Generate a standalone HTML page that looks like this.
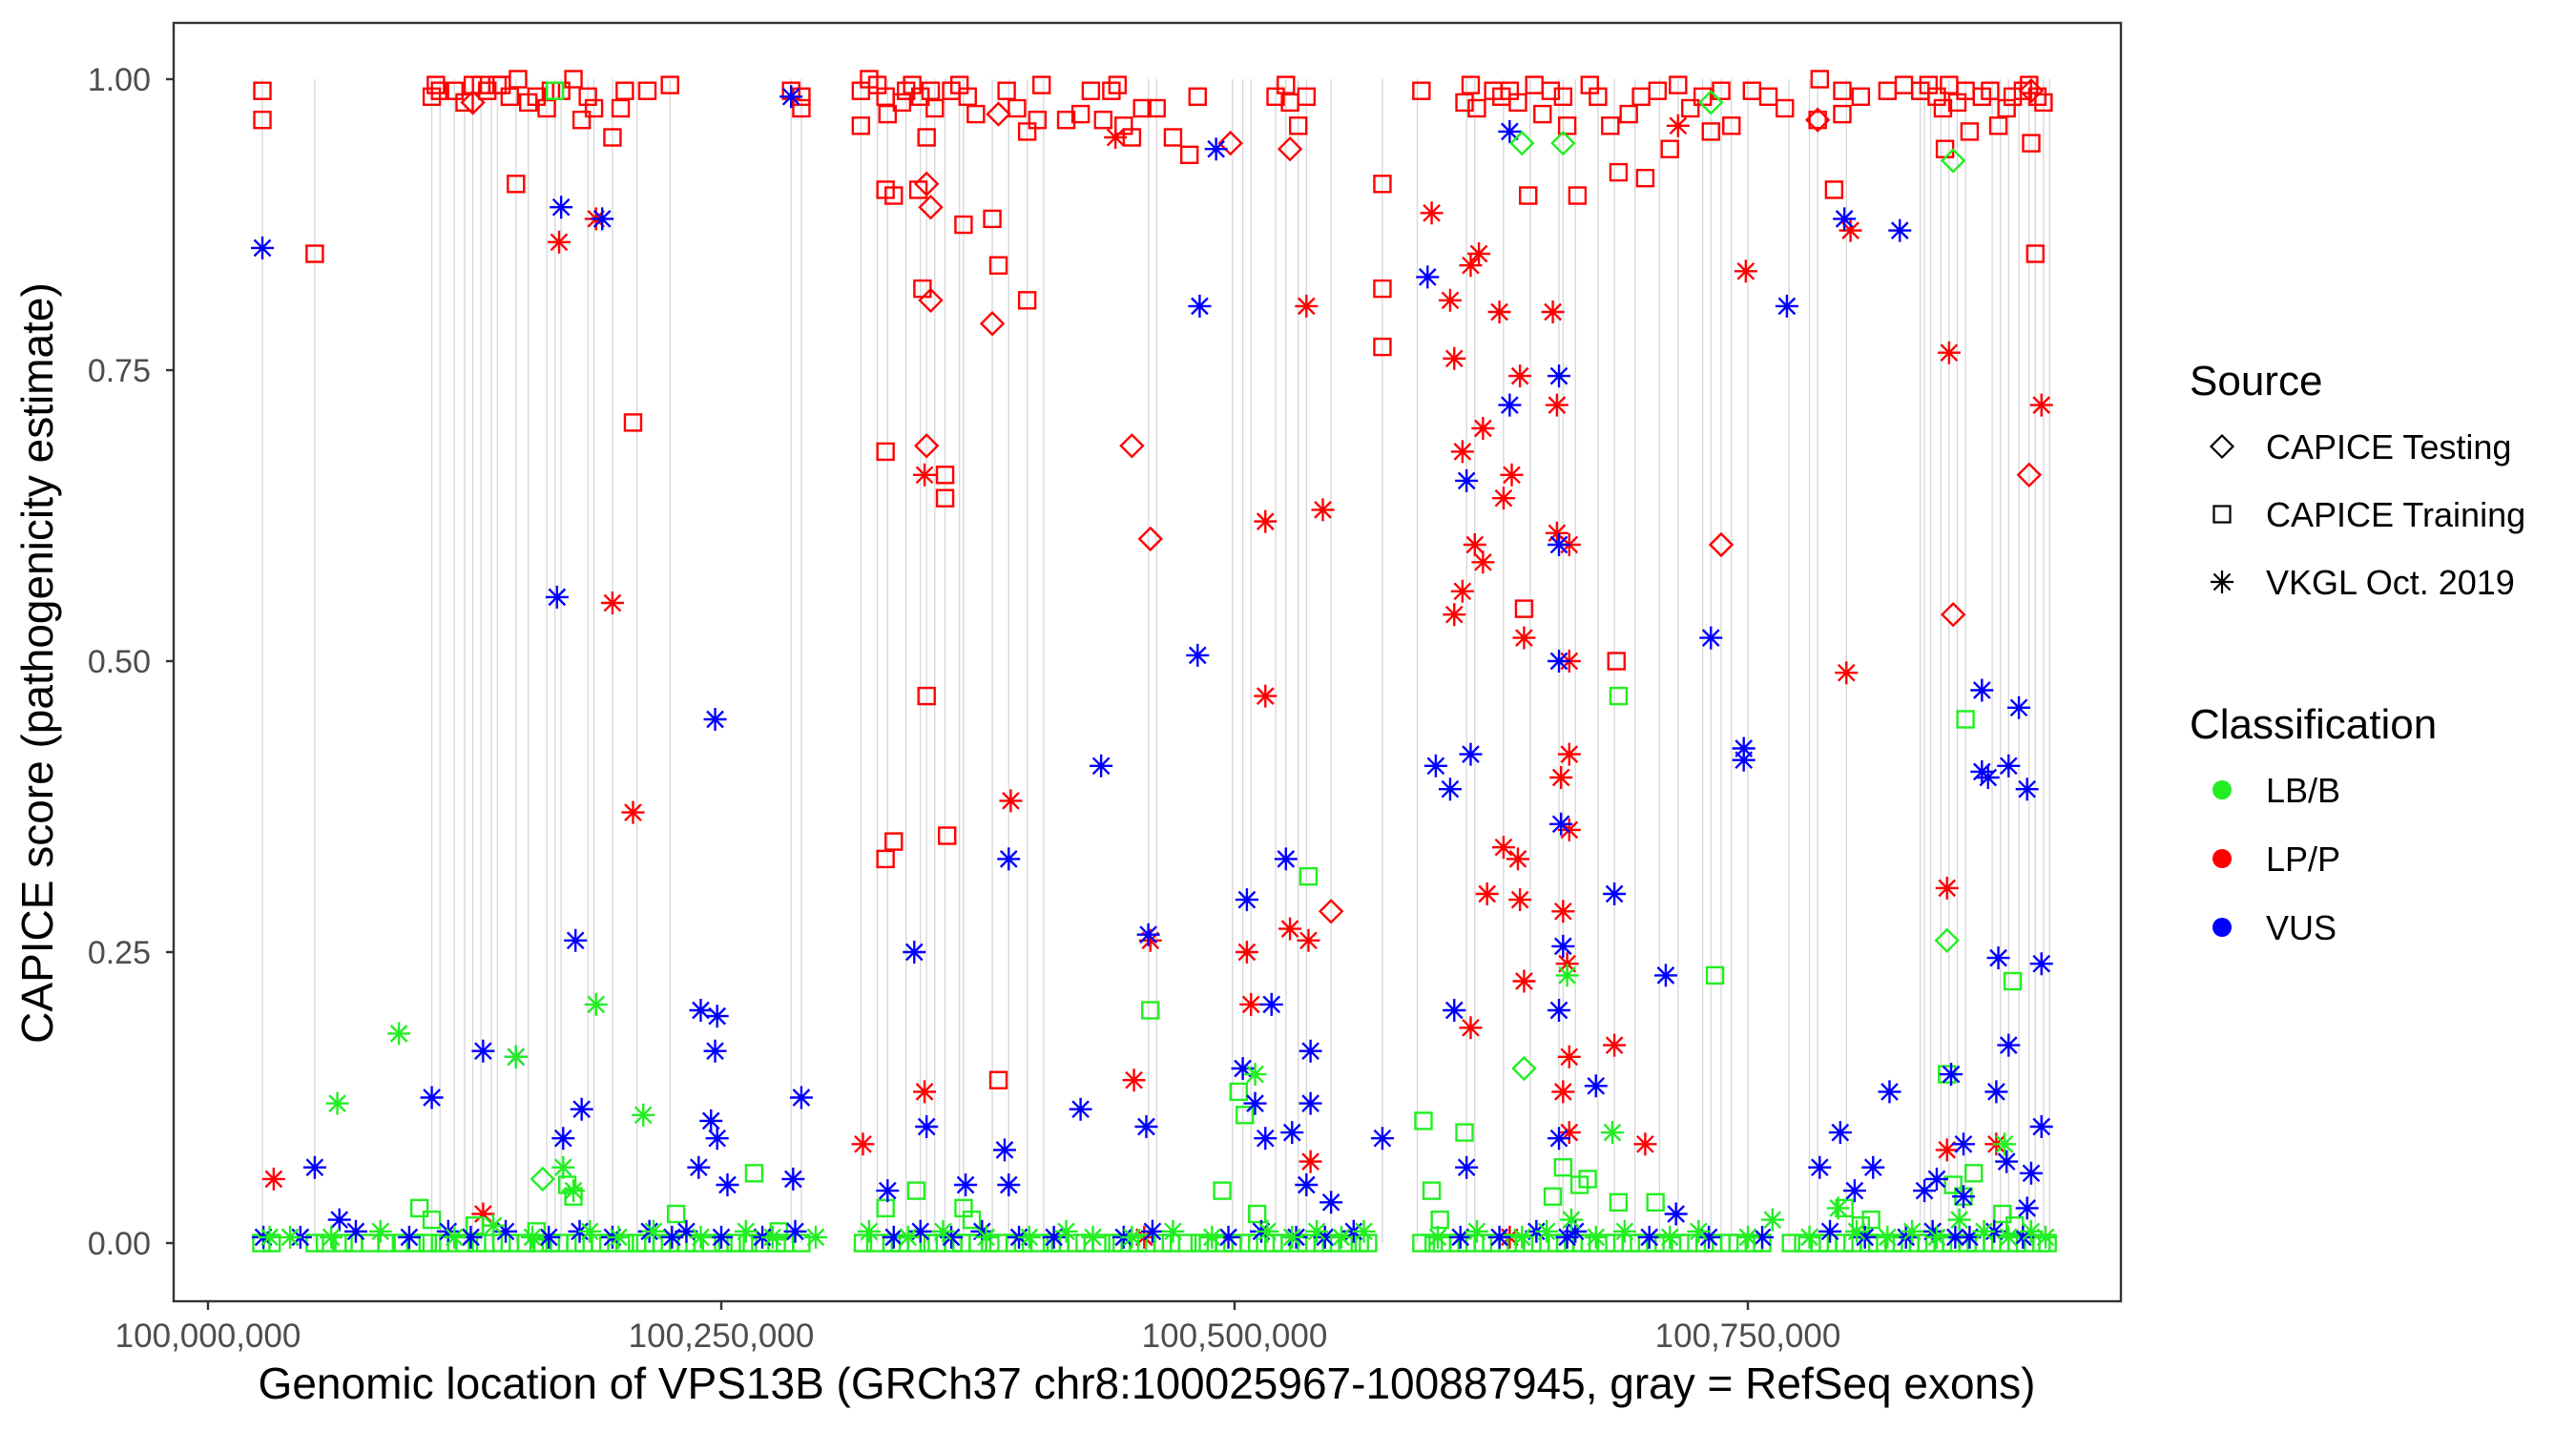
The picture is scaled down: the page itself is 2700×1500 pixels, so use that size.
<!DOCTYPE html>
<html><head><meta charset="utf-8"><style>
html,body{margin:0;padding:0;background:#fff}
svg{display:block;font-family:"Liberation Sans",Arial,sans-serif}
</style></head><body>
<svg id="chart" width="2700" height="1500" viewBox="0 0 2700 1500" xmlns="http://www.w3.org/2000/svg">
<rect x="0" y="0" width="2700" height="1500" fill="#fff"/>
<g id="exons"></g>
<g id="marks"></g>
<rect x="182" y="24" width="2041" height="1340" fill="none" stroke="#333" stroke-width="2.4"/>
<g id="axes"></g>
<text x="1202" y="1466" font-size="46" text-anchor="middle" fill="#000">Genomic location of VPS13B (GRCh37 chr8:100025967-100887945, gray = RefSeq exons)</text>
<text transform="translate(55,695) rotate(-90)" font-size="46" text-anchor="middle" fill="#000">CAPICE score (pathogenicity estimate)</text>
<g id="legend">
<text x="2295" y="414" font-size="44">Source</text>
<text x="2295" y="774" font-size="44">Classification</text>
</g>
</svg>
<script>
// positions in kb offset from 100,000,000 (GRCh37 chr8); scores are CAPICE values
const xTicks = [0, 250, 500, 750];
const xTickLabels = ["100,000,000", "100,250,000", "100,500,000", "100,750,000"];
const yTicks = [0, 0.25, 0.5, 0.75, 1];
const yTickLabels = ["0.00", "0.25", "0.50", "0.75", "1.00"];
const exonPositions = [26.5,52,109,113,120,125,129,133,138,141,150,156,165,169,172,185,188,197,209,225,284,289,318,326,331,340,347,350,354,359,366,368,382,390,399,407,458,462,499,504,508,520,525,531,535,547,572,589,613,617,631,644,658,660,666,677,685,695,707,716,728,732,737,742,750,770,780,784,798,834,836,839,844,848,852,856,869,873,877,882,887,890,894,897];

const trainLBB_low = [[26,0],[31,0],[52,0],[57,0],[66,0],[71,0],[79,0],[87,0],[94,0],[101,0],[107,0],[113,0],[117,0],[125,0],[131,0],[135,0],[143,0],[147,0],[155,0],[161,0],[167,0],[171,0],[179,0],[183,0],[191,0],[195,0],[203,0],[209,0],[213,0],[221,0],[225,0],[233,0],[237,0],[245,0],[251,0],[257,0],[263,0],[269,0],[277,0],[281,0],[289,0],[319,0],[325,0],[333,0],[337,0],[345,0],[351,0],[355,0],[363,0],[367,0],[375,0],[381,0],[385,0],[393,0],[397,0],[405,0],[411,0],[415,0],[423,0],[427,0],[435,0],[441,0],[445,0],[453,0],[457,0],[465,0],[469,0],[477,0],[483,0],[487,0],[495,0],[499,0],[507,0],[511,0],[519,0],[523,0],[531,0],[535,0],[543,0],[547,0],[555,0],[561,0],[565,0],[591,0],[597,0],[601,0],[609,0],[613,0],[621,0],[625,0],[633,0],[637,0],[645,0],[649,0],[657,0],[661,0],[669,0],[673,0],[681,0],[685,0],[693,0],[697,0],[705,0],[709,0],[717,0],[721,0],[729,0],[733,0],[741,0],[745,0],[753,0],[757,0],[771,0],[777,0],[785,0],[789,0],[797,0],[801,0],[809,0],[813,0],[821,0],[825,0],[833,0],[837,0],[845,0],[849,0],[857,0],[861,0],[869,0],[873,0],[881,0],[885,0],[893,0],[896,0],
 [103,0.03],[109,0.02],[130,0.015],[160,0.01],[175,0.05],[178,0.04],[228,0.025],[266,0.06],[278,0.01],[330,0.03],[345,0.045],[368,0.03],[372,0.02],[494,0.045],[502,0.13],[505,0.11],[511,0.025],[596,0.045],[600,0.02],[655,0.04],[660,0.065],[668,0.05],[672,0.055],[687,0.035],[705,0.035],[797,0.03],[810,0.02],[805,0.015],[850,0.05],[855,0.04],[860,0.06],[874,0.025],[880,0.015],[592,0.105],[612,0.095],[734,0.23],[687,0.47],[856,0.45],[879,0.225],[847,0.145],[459,0.2],[536,0.315],[169,0.99]];
const vkglLBB = [[30,0.005],[60,0.005],[63,0.12],[93,0.18],[150,0.16],[173,0.065],[189,0.205],[178,0.045],[212,0.11],[510,0.145],[662,0.23],[684,0.095],[794,0.03],[875,0.085],[40,0.005],[84,0.01],[120,0.005],[139,0.015],[158,0.005],[186,0.01],[200,0.005],[217,0.01],[240,0.005],[262,0.01],[275,0.005],[296,0.005],[322,0.01],[341,0.005],[358,0.01],[379,0.005],[400,0.005],[418,0.01],[431,0.005],[450,0.005],[470,0.01],[489,0.005],[516,0.01],[528,0.005],[540,0.01],[552,0.005],[563,0.01],[599,0.005],[618,0.01],[640,0.005],[652,0.01],[664,0.02],[676,0.005],[690,0.01],[712,0.005],[726,0.01],[750,0.005],[762,0.02],[780,0.005],[803,0.01],[818,0.005],[830,0.01],[842,0.005],[853,0.02],[865,0.01],[877,0.005],[888,0.01],[895,0.005]];
const vkglVUS = [[26.5,0.855],[170,0.555],[172,0.89],[192,0.88],[284,0.985],[247,0.45],[179,0.26],[134,0.165],[109,0.125],[150,0.16],[173,0.09],[182,0.115],[52,0.065],[64,0.02],[285,0.055],[289,0.125],[240,0.2],[248,0.195],[247,0.165],[245,0.105],[248,0.09],[239,0.065],[253,0.05],[344,0.25],[350,0.1],[388,0.08],[390,0.33],[390,0.05],[369,0.05],[331,0.045],[435,0.41],[425,0.115],[458,0.265],[457,0.1],[482,0.505],[483,0.805],[491,0.94],[506,0.295],[504,0.15],[518,0.205],[525,0.33],[537,0.165],[537,0.12],[510,0.12],[515,0.09],[528,0.095],[535,0.05],[547,0.035],[572,0.09],[594,0.83],[598,0.41],[605,0.39],[613,0.655],[615,0.42],[607,0.2],[613,0.065],[634,0.955],[634,0.72],[658,0.745],[658,0.6],[658,0.5],[659,0.36],[660,0.255],[658,0.2],[658,0.09],[676,0.135],[685,0.3],[710,0.23],[715,0.025],[732,0.52],[748,0.425],[748,0.415],[769,0.805],[797,0.88],[795,0.095],[785,0.065],[802,0.045],[811,0.065],[824,0.87],[819,0.13],[836,0.045],[842,0.055],[849,0.145],[855,0.085],[855,0.04],[864,0.475],[864,0.405],[867,0.4],[872,0.245],[877,0.41],[877,0.17],[871,0.13],[882,0.46],[886,0.39],[893,0.24],[893,0.1],[888,0.06],[876,0.07],[886,0.03],
 [27,0.005],[45,0.005],[72,0.01],[98,0.005],[117,0.01],[128,0.005],[145,0.01],[166,0.005],[181,0.01],[197,0.005],[215,0.01],[226,0.005],[233,0.01],[250,0.005],[270,0.005],[286,0.01],[334,0.005],[347,0.01],[362,0.005],[377,0.01],[395,0.005],[412,0.005],[446,0.005],[460,0.01],[497,0.005],[513,0.01],[530,0.005],[544,0.005],[558,0.01],[610,0.005],[629,0.005],[647,0.01],[662,0.005],[666,0.01],[702,0.005],[731,0.005],[757,0.005],[790,0.01],[807,0.005],[827,0.005],[840,0.01],[851,0.005],[858,0.005],[870,0.01],[884,0.005]];
const vkglLPP = [[32,0.055],[171,0.86],[189,0.88],[197,0.55],[207,0.37],[134,0.025],[349,0.66],[349,0.13],[391,0.38],[451,0.14],[459,0.26],[319,0.085],[442,0.95],[506,0.25],[508,0.205],[515,0.47],[515,0.62],[527,0.27],[535,0.805],[536,0.26],[543,0.63],[537,0.07],[596,0.885],[605,0.81],[607,0.76],[611,0.68],[615,0.84],[619,0.85],[621,0.7],[617,0.6],[611,0.56],[607,0.54],[621,0.585],[615,0.185],[623,0.3],[629,0.8],[631,0.64],[631,0.34],[635,0.66],[639,0.745],[641,0.52],[641,0.225],[639,0.295],[638,0.33],[655,0.8],[657,0.72],[657,0.61],[659,0.4],[660,0.285],[662,0.24],[663,0.6],[663,0.5],[663,0.42],[663,0.355],[663,0.16],[660,0.13],[685,0.17],[700,0.085],[716,0.96],[749,0.835],[798,0.49],[800,0.87],[847,0.305],[848,0.765],[847,0.08],[893,0.72],[871,0.085],[663,0.095],[634,0.005],[456,0.005]];
const trainLPP = [[26.5,0.99],[26.5,0.965],[52,0.85],[109,0.985],[111,0.995],[113,0.99],[120,0.99],[125,0.98],[129,0.995],[133,0.995],[136,0.99],[141,0.995],[150,0.91],[143,0.995],[147,0.985],[151,1.0],[156,0.98],[160,0.985],[165,0.975],[167,0.99],[172,0.99],[178,1.0],[185,0.985],[182,0.965],[188,0.975],[197,0.95],[201,0.975],[207,0.705],[203,0.99],[214,0.99],[225,0.995],[284,0.99],[289,0.975],[289,0.985],[318,0.96],[318,0.99],[322,1.0],[326,0.995],[330,0.985],[330,0.905],[330,0.68],[330,0.33],[334,0.345],[334,0.9],[331,0.97],[338,0.98],[340,0.99],[343,0.995],[346,0.905],[347,0.985],[348,0.82],[350,0.47],[350,0.95],[352,0.99],[354,0.975],[359,0.66],[359,0.64],[360,0.35],[362,0.99],[366,0.995],[368,0.875],[370,0.985],[374,0.97],[382,0.88],[385,0.84],[389,0.99],[394,0.975],[399,0.81],[399,0.955],[404,0.965],[406,0.995],[385,0.14],[418,0.965],[425,0.97],[430,0.99],[436,0.965],[440,0.99],[443,0.995],[446,0.96],[450,0.95],[455,0.975],[462,0.975],[470,0.95],[478,0.935],[482,0.985],[520,0.985],[525,0.995],[527,0.98],[531,0.96],[535,0.985],[572,0.82],[572,0.77],[572,0.91],[591,0.99],[612,0.98],[615,0.995],[618,0.975],[626,0.99],[630,0.985],[634,0.99],[638,0.98],[641,0.545],[643,0.9],[646,0.995],[650,0.97],[654,0.99],[660,0.985],[662,0.96],[667,0.9],[673,0.995],[677,0.985],[683,0.96],[686,0.5],[687,0.92],[692,0.97],[698,0.985],[700,0.915],[706,0.99],[712,0.94],[716,0.995],[722,0.975],[728,0.985],[732,0.955],[737,0.99],[742,0.96],[752,0.99],[760,0.985],[768,0.975],[784,0.965],[785,1.0],[792,0.905],[796,0.99],[796,0.97],[805,0.985],[818,0.99],[826,0.995],[834,0.99],[838,0.995],[842,0.985],[845,0.975],[848,0.995],[852,0.98],[856,0.99],[858,0.955],[864,0.985],[868,0.99],[872,0.96],[876,0.975],[879,0.985],[884,0.99],[887,0.995],[890,0.85],[888,0.945],[891,0.985],[894,0.98],[846,0.94]];
const testLPP = [[129,0.98],[350,0.91],[352,0.89],[350,0.685],[352,0.81],[382,0.79],[385,0.97],[498,0.945],[527,0.94],[450,0.685],[459,0.605],[547,0.285],[737,0.6],[784,0.965],[850,0.54],[887,0.66],[888,0.99]];
const testLBB = [[163,0.055],[641,0.15],[660,0.945],[640,0.945],[732,0.98],[847,0.26],[850,0.93]];

const svgNS = "http://www.w3.org/2000/svg";
const X = kb => 218 + kb * 2.152;
const Y = s => 1303 - s * 1220;
const COL = {lbb: "#22ee22", lpp: "#ff0000", vus: "#0000ff"};

function mk(tag, attrs, parent) {
  const el = document.createElementNS(svgNS, tag);
  for (const k in attrs) el.setAttribute(k, attrs[k]);
  parent.appendChild(el);
  return el;
}
function square(g, x, y, c) {
  return mk("rect", {x: x - 8.5, y: y - 8.5, width: 17, height: 17, fill: "none", stroke: c, "stroke-width": 2.4}, g);
}
function diamond(g, x, y, c) {
  const r = 11.5;
  return mk("path", {d: `M${x} ${y - r}L${x + r} ${y}L${x} ${y + r}L${x - r} ${y}Z`, fill: "none", stroke: c, "stroke-width": 2.4}, g);
}
function asterisk(g, x, y, c) {
  const r = 12, d = 8.5;
  return mk("path", {d: `M${x} ${y - r}V${y + r}M${x - d} ${y - d}L${x + d} ${y + d}M${x - d} ${y + d}L${x + d} ${y - d}M${x - r} ${y}H${x + r}`, fill: "none", stroke: c, "stroke-width": 2.4}, g);
}

const exG = document.getElementById("exons");
exonPositions.forEach(p => {
  const l = mk("line", {x1: X(p), x2: X(p), y1: Y(1), y2: Y(0), stroke: "#d6d6d6", "stroke-width": 1.3}, exG);
  
  
});

const ax = document.getElementById("axes");
yTicks.forEach((t, i) => {
  const l = mk("line", {x1: 174, x2: 182, y1: Y(t), y2: Y(t), stroke: "#333", "stroke-width": 2.4}, ax);
  
  
  const tx = mk("text", {x: 158, y: Y(t) + 12, "font-size": 34, "text-anchor": "end", fill: "#4d4d4d"}, ax);
  tx.textContent = yTickLabels[i];
  
  
});
xTicks.forEach((t, i) => {
  const l = mk("line", {x1: X(t), x2: X(t), y1: 1364, y2: 1373, stroke: "#333", "stroke-width": 2.4}, ax);
  
  
  const tx = mk("text", {x: X(t), y: 1412, "font-size": 35, "text-anchor": "middle", fill: "#4d4d4d"}, ax);
  tx.textContent = xTickLabels[i];
  
  
});

const mg = document.getElementById("marks");
function draw(arr, fn, c, name) {
  arr.forEach(([kb, s]) => {
    const el = fn(mg, X(kb), Y(s), c);
    
    
  });
}
draw(trainLPP, square, COL.lpp, 'training-lp-p-point');
draw(testLPP, diamond, COL.lpp, 'testing-lp-p-point');
draw(vkglLPP, asterisk, COL.lpp, 'vkgl-lp-p-point');
draw(trainLBB_low, square, COL.lbb, 'training-lb-b-point');
draw(vkglVUS, asterisk, COL.vus, 'vkgl-vus-point');
draw(vkglLBB, asterisk, COL.lbb, 'vkgl-lb-b-point');
draw(testLBB, diamond, COL.lbb, 'testing-lb-b-point');

const lg = document.getElementById("legend");
const srcLabels = ["CAPICE Testing", "CAPICE Training", "VKGL Oct. 2019"];
const srcFns = [diamond, square, asterisk];
const srcY = [468, 539, 610];
srcLabels.forEach((lab, i) => {
  const k = srcFns[i](lg, 2329, srcY[i], "#000");
  k.setAttribute('stroke-width', 2.2);
  
  
  const t = mk("text", {x: 2375, y: srcY[i] + 13, "font-size": 36, fill: "#000"}, lg);
  t.textContent = lab;
  
  
});
const clsLabels = ["LB/B", "LP/P", "VUS"];
const clsCols = [COL.lbb, COL.lpp, COL.vus];
const clsY = [828, 900, 972];
clsLabels.forEach((lab, i) => {
  const c = mk("circle", {cx: 2329, cy: clsY[i], r: 10, fill: clsCols[i]}, lg);
  
  
  const t = mk("text", {x: 2375, y: clsY[i] + 13, "font-size": 36, fill: "#000"}, lg);
  t.textContent = lab;
  
  
});
</script>
</body></html>
